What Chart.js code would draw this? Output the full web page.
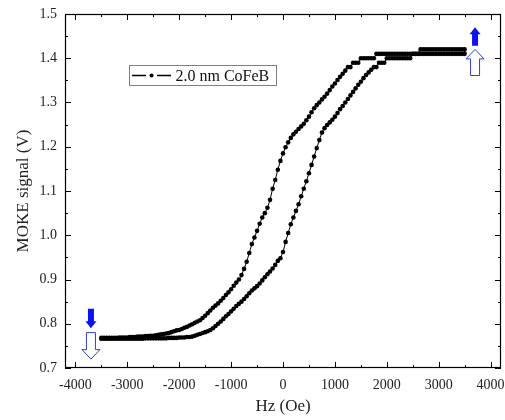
<!DOCTYPE html>
<html lang="en">
<head>
    <meta charset="UTF-8">
    <title>MOKE loop | 2.0 nm CoFeB</title>
    <script src="https://cdn.jsdelivr.net/npm/chart.js"></script>
    <style>
        html, body { margin: 0; padding: 0; background: #fff; }
    </style>
</head>
<body>
    <canvas id="mokeChart" width="505" height="420"></canvas>
<script>
    // field values (Oe), shared by both branches
    const hz = [
        -3500, -3450, -3400, -3350, -3300, -3250, -3200, -3150, -3100, -3050,
        -3000, -2950, -2900, -2850, -2800, -2750, -2700, -2650, -2600, -2550,
        -2500, -2450, -2400, -2350, -2300, -2250, -2200, -2150, -2100, -2050,
        -2000, -1950, -1900, -1850, -1800, -1750, -1700, -1650, -1600, -1550,
        -1500, -1450, -1400, -1350, -1300, -1250, -1200, -1150, -1100, -1050,
        -1000, -950, -900, -850, -800, -750, -700, -650, -600, -550,
        -500, -450, -400, -350, -300, -250, -200, -150, -100, -50,
        0, 50, 100, 150, 200, 250, 300, 350, 400, 450,
        500, 550, 600, 650, 700, 750, 800, 850, 900, 950,
        1000, 1050, 1100, 1150, 1200, 1250, 1300, 1350, 1400, 1450,
        1500, 1550, 1600, 1650, 1700, 1750, 1800, 1850, 1900, 1950,
        2000, 2050, 2100, 2150, 2200, 2250, 2300, 2350, 2400, 2450,
        2500, 2550, 2600, 2650, 2700, 2750, 2800, 2850, 2900, 2950,
        3000, 3050, 3100, 3150, 3200, 3250, 3300, 3350, 3400, 3450,
        3500
    ];

    // descending field branch (left curve)
    const upperBranch = [
        0.768, 0.768, 0.768, 0.768, 0.768, 0.768, 0.768, 0.769, 0.769, 0.769,
        0.769, 0.770, 0.770, 0.770, 0.771, 0.771, 0.771, 0.772, 0.772, 0.773,
        0.773, 0.774, 0.775, 0.776, 0.777, 0.778, 0.779, 0.781, 0.783, 0.785,
        0.786, 0.788, 0.791, 0.793, 0.796, 0.799, 0.802, 0.805, 0.808, 0.813,
        0.818, 0.824, 0.830, 0.836, 0.841, 0.846, 0.852, 0.858, 0.865, 0.871,
        0.878, 0.886, 0.893, 0.900, 0.910, 0.924, 0.940, 0.960, 0.980, 0.995,
        1.010, 1.026, 1.040, 1.050, 1.062, 1.080, 1.105, 1.125, 1.148, 1.168,
        1.185, 1.199, 1.210, 1.220, 1.228, 1.234, 1.240, 1.246, 1.252, 1.260,
        1.268, 1.278, 1.287, 1.294, 1.300, 1.307, 1.313, 1.320, 1.328, 1.336,
        1.343, 1.351, 1.358, 1.365, 1.372, 1.380, 1.380, 1.390, 1.390, 1.390,
        1.400, 1.400, 1.400, 1.400, 1.400, 1.400, 1.410, 1.410, 1.410, 1.410,
        1.410, 1.410, 1.410, 1.410, 1.410, 1.410, 1.410, 1.410, 1.410, 1.410,
        1.410, 1.410, 1.410, 1.420, 1.420, 1.420, 1.420, 1.420, 1.420, 1.420,
        1.420, 1.420, 1.420, 1.420, 1.420, 1.420, 1.420, 1.420, 1.420, 1.420,
        1.420
    ];

    // ascending field branch (right curve)
    const lowerBranch = [
        0.766, 0.766, 0.766, 0.766, 0.766, 0.766, 0.766, 0.766, 0.766, 0.766,
        0.766, 0.766, 0.766, 0.766, 0.766, 0.766, 0.766, 0.767, 0.767, 0.767,
        0.767, 0.767, 0.767, 0.767, 0.767, 0.767, 0.768, 0.768, 0.768, 0.768,
        0.769, 0.769, 0.769, 0.770, 0.770, 0.771, 0.773, 0.775, 0.777, 0.779,
        0.781, 0.783, 0.786, 0.790, 0.795, 0.800, 0.805, 0.811, 0.817, 0.822,
        0.828, 0.834, 0.840, 0.845, 0.850, 0.856, 0.862, 0.869, 0.875, 0.880,
        0.885, 0.891, 0.898, 0.905, 0.912, 0.918, 0.925, 0.933, 0.942, 0.948,
        0.962, 0.985, 1.005, 1.025, 1.040, 1.055, 1.070, 1.088, 1.105, 1.122,
        1.140, 1.159, 1.178, 1.197, 1.215, 1.232, 1.242, 1.249, 1.255, 1.261,
        1.268, 1.276, 1.285, 1.292, 1.300, 1.308, 1.316, 1.324, 1.332, 1.340,
        1.347, 1.355, 1.362, 1.368, 1.374, 1.380, 1.380, 1.390, 1.390, 1.390,
        1.400, 1.400, 1.400, 1.400, 1.400, 1.400, 1.400, 1.400, 1.400, 1.400,
        1.410, 1.410, 1.410, 1.410, 1.410, 1.410, 1.410, 1.410, 1.410, 1.410,
        1.410, 1.410, 1.410, 1.410, 1.410, 1.410, 1.410, 1.410, 1.410, 1.410,
        1.410
    ];

    const seriesLabel = '2.0 nm CoFeB';

    // tick values on both axes
    const xTickValues = [-4000, -3000, -2000, -1000, 0, 1000, 2000, 3000, 4000];
    const yTickValues = [0.7, 0.8, 0.9, 1.0, 1.1, 1.2, 1.3, 1.4, 1.5];

    // blue field-direction arrows (Hz, signal at tail, signal at tip)
    const arrowHz = [-3700, -3700, 3700, 3700];
    const arrowTail = [0.834, 0.780, 1.428, 1.361];
    const arrowTip = [0.790, 0.720, 1.470, 1.420];
    const arrowFilled = [true, false, true, false];

    const serif = "'Liberation Serif', 'Times New Roman', serif";

    // one closed loop: up the lower branch, back down the upper one
    const loop = hz.map((h, i) => ({ x: h, y: lowerBranch[i] }))
        .concat(hz.map((h, i) => ({ x: h, y: upperBranch[i] })).reverse());

    function drawArrow(ctx, px, yTail, yTip, filled) {
        const dir = yTip < yTail ? -1 : 1;
        const shaft = filled ? 3 : 4.5;
        const head = filled ? 5.5 : 9;
        const headLen = filled ? 7 : 9.5;
        const yNeck = yTip - dir * headLen;
        ctx.beginPath();
        ctx.moveTo(px - shaft, yTail);
        ctx.lineTo(px - shaft, yNeck);
        ctx.lineTo(px - head, yNeck);
        ctx.lineTo(px, yTip);
        ctx.lineTo(px + head, yNeck);
        ctx.lineTo(px + shaft, yNeck);
        ctx.lineTo(px + shaft, yTail);
        ctx.closePath();
        if (filled) {
            ctx.fillStyle = '#0a14f0';
            ctx.fill();
        } else {
            ctx.fillStyle = '#fff';
            ctx.fill();
            ctx.strokeStyle = '#3040c0';
            ctx.lineWidth = 1;
            ctx.stroke();
        }
    }

    // frame with inward ticks on all four sides, legend and arrows
    const decorations = {
        id: 'decorations',
        afterDraw(chart) {
            const { ctx, chartArea: a, scales: { x, y } } = chart;
            ctx.save();
            ctx.strokeStyle = '#000';
            ctx.lineWidth = 1.2;
            ctx.strokeRect(a.left + 0.5, a.top + 0.5, a.right - a.left - 1, a.bottom - a.top - 1);

            ctx.lineWidth = 1;
            ctx.beginPath();
            const xt = x.ticks.map(t => t.value);
            xt.forEach((v, i) => {
                const px = Math.round(x.getPixelForValue(v)) + 0.5;
                ctx.moveTo(px, a.bottom); ctx.lineTo(px, a.bottom - 6);
                ctx.moveTo(px, a.top); ctx.lineTo(px, a.top + 6);
                if (i < xt.length - 1) {
                    const pm = Math.round(x.getPixelForValue((v + xt[i + 1]) / 2)) + 0.5;
                    ctx.moveTo(pm, a.bottom); ctx.lineTo(pm, a.bottom - 3);
                    ctx.moveTo(pm, a.top); ctx.lineTo(pm, a.top + 3);
                }
            });
            const yt = y.ticks.map(t => t.value);
            yt.forEach((v, i) => {
                const py = Math.round(y.getPixelForValue(v)) + 0.5;
                ctx.moveTo(a.left, py); ctx.lineTo(a.left + 6, py);
                ctx.moveTo(a.right, py); ctx.lineTo(a.right - 6, py);
                if (i < yt.length - 1) {
                    const pm = Math.round(y.getPixelForValue((v + yt[i + 1]) / 2)) + 0.5;
                    ctx.moveTo(a.left, pm); ctx.lineTo(a.left + 3, pm);
                    ctx.moveTo(a.right, pm); ctx.lineTo(a.right - 3, pm);
                }
            });
            ctx.stroke();

            // legend box
            ctx.strokeStyle = '#808080';
            ctx.lineWidth = 1;
            ctx.strokeRect(129.5, 65.5, 147, 20);
            ctx.strokeStyle = '#000';
            ctx.lineWidth = 1.5;
            ctx.beginPath();
            ctx.moveTo(132, 75.5); ctx.lineTo(146, 75.5);
            ctx.moveTo(157, 75.5); ctx.lineTo(171, 75.5);
            ctx.stroke();
            ctx.fillStyle = '#000';
            ctx.beginPath();
            ctx.arc(151.5, 75.5, 2, 0, Math.PI * 2);
            ctx.fill();
            ctx.font = '16px ' + serif;
            ctx.textBaseline = 'middle';
            ctx.fillStyle = '#111';
            ctx.fillText(seriesLabel, 175.5, 76.5);

            arrowHz.forEach((h, i) => {
                drawArrow(ctx, x.getPixelForValue(h), y.getPixelForValue(arrowTail[i]),
                    y.getPixelForValue(arrowTip[i]), arrowFilled[i]);
            });
            ctx.restore();
        }
    };

    new Chart(document.getElementById('mokeChart'), {
        type: 'scatter',
        data: {
            datasets: [{
                label: seriesLabel,
                data: loop,
                showLine: true,
                borderColor: '#000',
                borderWidth: 1,
                pointRadius: 2.3,
                pointBackgroundColor: '#000',
                pointBorderWidth: 0
            }]
        },
        options: {
            responsive: false,
            animation: false,
            devicePixelRatio: 1,
            layout: { padding: { top: 14, right: 1, left: 0, bottom: 0 } },
            plugins: {
                legend: { display: false },
                tooltip: { enabled: false }
            },
            scales: {
                x: {
                    type: 'linear',
                    position: 'bottom',
                    min: -4200,
                    max: 4200,
                    grid: { display: false, drawTicks: false },
                    border: { display: false },
                    afterBuildTicks(s) { s.ticks = xTickValues.map(v => ({ value: v })); },
                    ticks: {
                        autoSkip: false,
                        maxRotation: 0,
                        padding: 9,
                        color: '#222',
                        font: { family: serif, size: 14 },
                        callback: v => String(v)
                    },
                    title: {
                        display: true,
                        text: 'Hz (Oe)',
                        color: '#222',
                        font: { family: serif, size: 17 },
                        padding: { top: 0, bottom: 3 }
                    },
                    afterFit(s) { s.height = 52; s.paddingLeft = 0; s.paddingRight = 0; }
                },
                y: {
                    min: 0.7,
                    max: 1.5,
                    grid: { display: false, drawTicks: false },
                    border: { display: false },
                    afterBuildTicks(s) { s.ticks = yTickValues.map(v => ({ value: v })); },
                    ticks: {
                        autoSkip: false,
                        padding: 8,
                        color: '#222',
                        font: { family: serif, size: 14 },
                        callback: v => Number(v).toFixed(1)
                    },
                    title: {
                        display: true,
                        text: 'MOKE signal (V)',
                        color: '#222',
                        font: { family: serif, size: 17 },
                        padding: { top: 13, bottom: 0 }
                    },
                    afterFit(s) { s.width = 65; s.paddingTop = 0; s.paddingBottom = 0; }
                }
            }
        },
        plugins: [decorations]
    });
</script>
</body>
</html>
